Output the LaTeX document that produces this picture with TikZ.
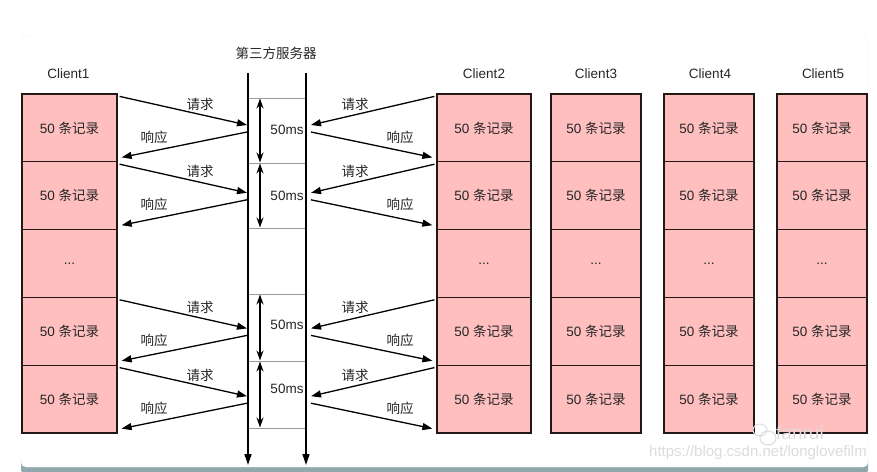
\documentclass[tikz,border=0pt]{standalone}
\usepackage{fontspec}
\setmainfont{Liberation Sans}
\newfontfamily\cjk{Noto Sans CJK SC}
\usetikzlibrary{arrows.meta,calc}
\definecolor{boxpink}{HTML}{FFBFBF}
\definecolor{boxline}{HTML}{231815}
\definecolor{gridgray}{HTML}{9A9A9A}
\definecolor{strip}{HTML}{8FA8AB}
\definecolor{wmark}{HTML}{DCDCDC}
\tikzset{
  txt/.style={font=\fontsize{13.5}{16}\selectfont, text=black!85, inner sep=0pt},
  cbox/.style={draw=boxline, line width=1.2pt, fill=boxpink, inner sep=0pt, font=\fontsize{13.5}{16}\selectfont, text=black!85},
  arr/.style={line width=1.3pt, -{Triangle[length=10pt,width=7pt]}},
  dbl/.style={line width=1.3pt, {Stealth[length=10pt,width=7pt]}-{Stealth[length=10pt,width=7pt]}},
  srv/.style={line width=1.3pt, -{Triangle[length=11pt,width=7pt]}},
  tick/.style={draw=gridgray, line width=1pt},
}
\begin{document}
\begin{tikzpicture}[x=1pt,y=-1pt]
\useasboundingbox (0,0) rectangle (877,471);
\fill[white] (0,0) rectangle (877,471);
% card and shadow strip
\fill[strip, rounded corners=4pt] (21,455) rectangle (868,474);
\filldraw[fill=white, draw=black!5, rounded corners=5pt] (21,35) rectangle (868,467);

% client titles
\node[txt] (t1) at (68.5,73.5) {Client1};
\node[txt] (t2) at (484,73.5) {Client2};
\node[txt] (t3) at (596,73.5) {Client3};
\node[txt] (t4) at (710,73.5) {Client4};
\node[txt] (t5) at (823,73.5) {Client5};
\node[txt] (srvtitle) at (276,53) {\cjk 第三方服务器};

% client boxes
\foreach \c/\cx/\w in {1/69.5/95, 2/484/94, 3/596/90, 4/709/90, 5/822/90}{
  \foreach \r/\ry in {1/127.9, 2/195.7, 4/331.3, 5/399.1}{
    \node[cbox, minimum width=\w pt, minimum height=67.8pt] (c\c r\r) at (\cx,\ry) {50 {\cjk 条记录}};
  }
  \node[cbox, minimum width=\w pt, minimum height=67.8pt] (c\c r3) at (\cx,263.5) {...};
}

% server
\coordinate (sLtop) at (248,73);
\coordinate (sLbot) at (248,465);
\coordinate (sRtop) at (306,73);
\coordinate (sRbot) at (306,465);
\foreach \y in {98,163,228,294,361,428}{
  \draw[tick] (248,\y) -- (306,\y);
}
\draw[srv] (sLtop) -- (sLbot);
\draw[srv] (sRtop) -- (sRbot);

% 50ms intervals
\foreach \a/\b/\ly/\n in {98/163/130/1, 163/228/196/2, 294/361/325/4, 361/428/389/5}{
  \coordinate (d\n a) at (260,\a+0.5);
  \coordinate (d\n b) at (260,\b-0.5);
  \draw[dbl] (d\n a) -- (d\n b);
  \node[txt, fill=white, inner sep=1pt] (ms\n) at (287,\ly) {50ms};
}

% request / response arrows
\foreach \j/\T in {1/94, 2/161.8, 4/297.4, 5/365.2}{
  \coordinate (sl\j a) at (247,\T+31);
  \coordinate (sl\j b) at (247,\T+38);
  \coordinate (sr\j a) at (311,\T+31);
  \coordinate (sr\j b) at (311,\T+38);
  \draw[arr] ([shift={(2,3)}]c1r\j.north east) -- (sl\j a);
  \draw[arr] (sl\j b) -- ([shift={(4,-5)}]c1r\j.south east);
  \draw[arr] ([shift={(-2,3)}]c2r\j.north west) -- (sr\j a);
  \draw[arr] (sr\j b) -- ([shift={(-4,-5)}]c2r\j.south west);
  \node[txt] (lq\j) at (200,\T+10) {\cjk 请求};
  \node[txt] (lp\j) at (154,\T+43) {\cjk 响应};
  \node[txt] (rq\j) at (355,\T+10) {\cjk 请求};
  \node[txt] (rp\j) at (400,\T+43) {\cjk 响应};
}

% watermark
\draw[wmark, line width=1pt] (760,430) ellipse (7pt and 6pt);
\draw[wmark, line width=1pt] (768,438) ellipse (8pt and 7pt);
\node[txt, text=wmark, font=\fontsize{19}{22}\selectfont, anchor=west] (wm1) at (776,433) {fanrui};
\node[txt, text=wmark, font=\fontsize{15}{18}\selectfont, anchor=east] (wm2) at (867,453) {https://blog.csdn.net/longlovefilm};
\end{tikzpicture}
\end{document}
